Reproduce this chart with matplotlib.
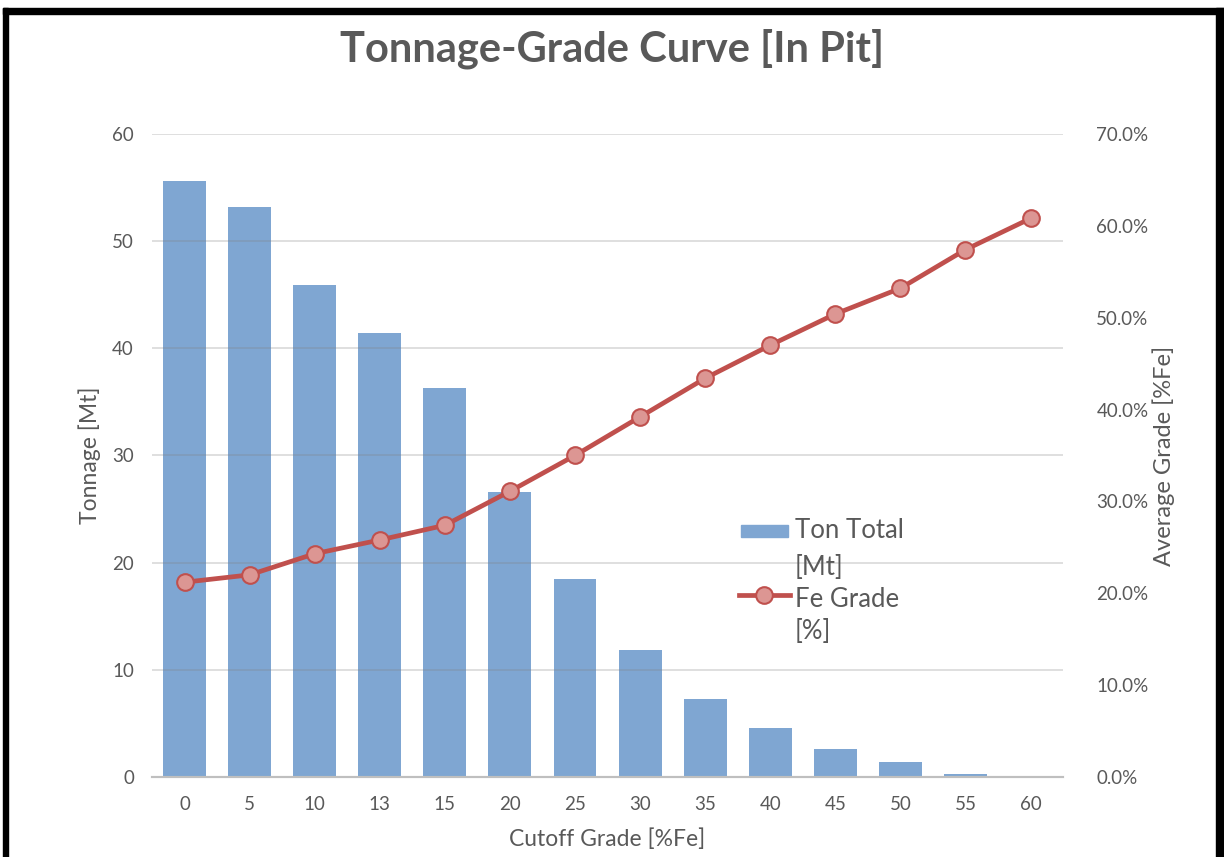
import numpy as np
import matplotlib
matplotlib.use('Agg')
import matplotlib.pyplot as plt
from matplotlib.patches import Rectangle
from matplotlib.lines import Line2D
from matplotlib.ticker import FuncFormatter

plt.rcParams['font.family'] = ['Lato', 'DejaVu Sans']

# 品位-吨位数据
cutoff = ['0', '5', '10', '13', '15', '20', '25', '30', '35', '40', '45', '50', '55', '60']
tonnage = [55.6, 53.2, 45.9, 41.4, 36.3, 26.6, 18.5, 11.8, 7.3, 4.6, 2.6, 1.4, 0.3, 0.0]
fe_grade = [0.212, 0.220, 0.243, 0.258, 0.274, 0.311, 0.350, 0.392, 0.434, 0.470, 0.504, 0.532, 0.574, 0.608]

grey = '#595959'
bar_color = '#7FA6D2'
line_color = '#C0504D'

fig = plt.figure(figsize=(12.24, 8.57), dpi=100)
ax = fig.add_axes([0.1242, 0.0934, 0.7443, 0.7503])
ax2 = ax.twinx()

x = np.arange(len(cutoff))
ax.bar(x, tonnage, width=0.66, color=bar_color, zorder=1)
ax.set_xlim(-0.5, len(cutoff) - 0.5)
ax.set_ylim(0, 60)
ax.set_yticks(range(0, 61, 10))
ax.set_xticks(x)
ax.set_xticklabels(cutoff)
ax.grid(axis='y', color='#808080', alpha=0.3, linewidth=1.2, zorder=2)
ax.set_axisbelow(False)

ax2.plot(x, fe_grade, color=line_color, linewidth=3.4, marker='o', markersize=12,
         markerfacecolor='#DC9693', markeredgecolor=line_color, markeredgewidth=1.5, zorder=5)
ax2.set_ylim(0, 0.7)
ax2.set_yticks(np.arange(0, 0.71, 0.1))
ax2.yaxis.set_major_formatter(FuncFormatter(lambda v, p: f'{v * 100:.1f}%'))

for a in (ax, ax2):
    for s in ('top', 'left', 'right'):
        a.spines[s].set_visible(False)
    a.spines['bottom'].set_color('#BFBFBF')
    a.spines['bottom'].set_linewidth(1.5)
    a.tick_params(length=0, labelsize=13.5, colors=grey)
ax.tick_params(axis='y', pad=13)
ax.tick_params(axis='x', pad=14)
ax2.tick_params(axis='y', pad=24)

ax.set_xlabel('Cutoff Grade [%Fe]', fontsize=16.5, color=grey, labelpad=11)
ax.set_ylabel('Tonnage [Mt]', fontsize=16.5, color=grey, labelpad=8)
ax2.set_ylabel('Average Grade [%Fe]', fontsize=17, color=grey, labelpad=3)

fig.text(0.5, 0.943, 'Tonnage-Grade Curve [In Pit]', ha='center', va='center',
         fontsize=30, fontweight='bold', color=grey)

# 图例（手动绘制，标签分两行）
ax2.add_patch(Rectangle((0.6465, 0.3733), 0.0516, 0.0187, transform=ax2.transAxes,
                        color=bar_color, zorder=6, clip_on=False))
ax2.add_line(Line2D([0.644, 0.700], [0.283, 0.283], transform=ax2.transAxes,
                    color=line_color, linewidth=3.4, zorder=6))
ax2.add_line(Line2D([0.672], [0.283], transform=ax2.transAxes, marker='o', markersize=12,
                    markerfacecolor='#DC9693', markeredgecolor=line_color,
                    markeredgewidth=1.5, zorder=7))
for label, yy in [('Ton Total', 0.3826), ('[Mt]', 0.325), ('Fe Grade', 0.2753), ('[%]', 0.2255)]:
    ax2.text(0.7058, yy, label, transform=ax2.transAxes, fontsize=18.5, color=grey,
             ha='left', va='center', zorder=8)

# 黑色边框
W, H = 1224, 857
fig.add_artist(Rectangle((3 / W, 0), 5 / W, 1 - 8 / H, transform=fig.transFigure, color='black'))
fig.add_artist(Rectangle((3 / W, 1 - 14 / H), 1 - 3 / W, 6 / H, transform=fig.transFigure, color='black'))
fig.add_artist(Rectangle((1 - 8 / W, 0), 8 / W, 1 - 8 / H, transform=fig.transFigure, color='black'))

fig.savefig('out.png', dpi=100)
